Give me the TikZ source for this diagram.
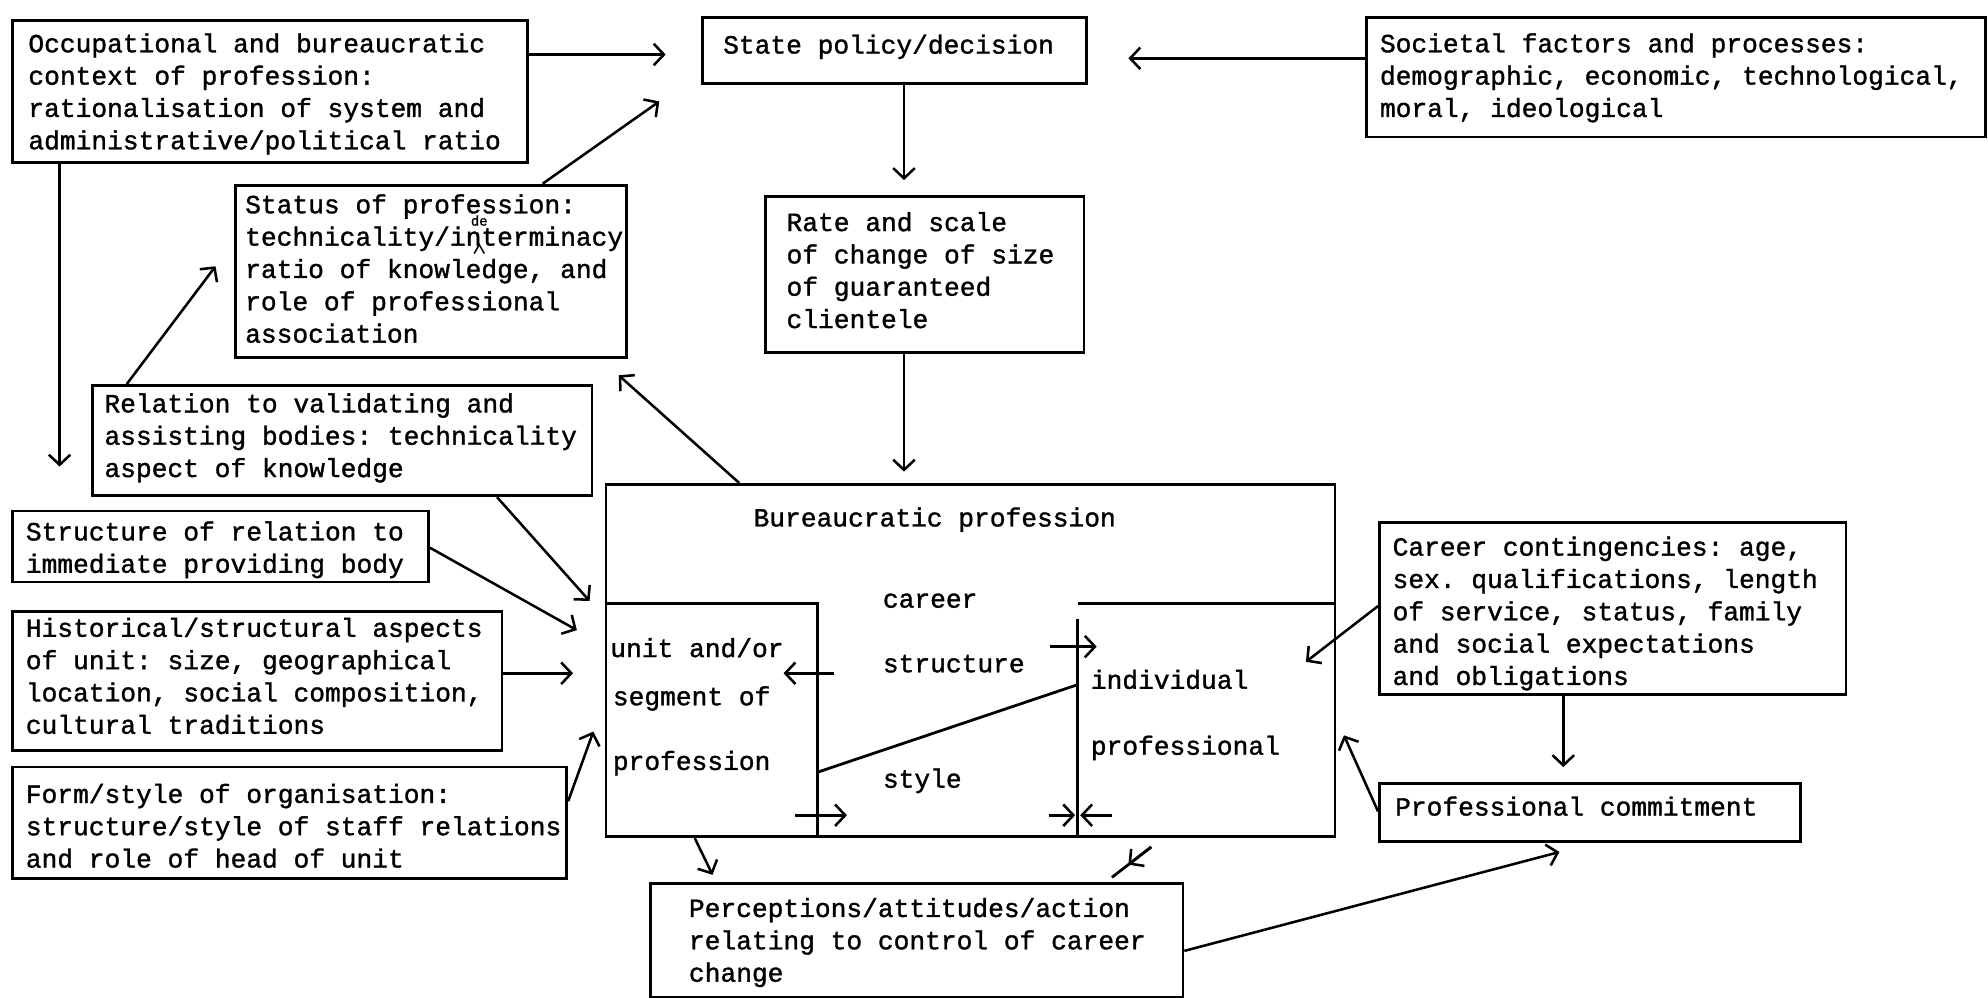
\documentclass[tikz,border=0pt]{standalone}
\usepackage{fontspec}
\setmonofont{Liberation Mono}[FakeBold=1.3]
\usetikzlibrary{arrows.meta,fit}
\tikzset{
  bx/.style={draw, line width=1.1pt, inner sep=0pt},
  txt/.style={anchor=north west, inner sep=0pt, align=left,
    font=\fontsize{10.35}{12.75}\selectfont\ttfamily},
  arr/.style={line width=1pt, -{Straight Barb[length=4pt,width=8.5pt,line width=1pt]}},
  ln/.style={line width=1.1pt}
}
\begin{document}
\begin{tikzpicture}[x=0.5pt,y=-0.5pt]
\useasboundingbox (0,0) rectangle (1568,786.4);
% boxes
\node[bx, fit={(10,16) (416,128)}] (A) {};
\node[bx, fit={(554,14) (857,66)}] (B) {};
\node[bx, fit={(1078,14) (1566,108)}] (C) {};
\node[bx, fit={(604,155) (855,278)}] (D) {};
\node[bx, fit={(186,146) (494,282)}] (F) {};
\node[bx, fit={(73,304) (467,391)}] (G) {};
\node[bx, fit={(10,403) (338,459)}] (H) {};
\node[bx, fit={(10,482) (396,592)}] (I) {};
\node[bx, fit={(10,605) (447,693)}] (J) {};
\node[bx, fit={(478,382) (1053,660)}] (E) {};
\node[bx, fit={(513,697) (933,787)}] (K) {};
\node[bx, fit={(1088,412) (1456,548)}] (L) {};
\node[bx, fit={(1088,618) (1420,664)}] (M) {};
% texts
\node[txt] (At) at (22,23) {\strut Occupational and bureaucratic\\context of profession:\\rationalisation of system and\\administrative/political ratio};
\node[txt] (Bt) at (570,24) {\strut State policy/decision};
\node[txt] (Ct) at (1088,23) {\strut Societal factors and processes:\\demographic, economic, technological,\\moral, ideological};
\node[txt] (Dt) at (620,164) {\strut Rate and scale\\of change of size\\of guaranteed\\clientele};
\node[txt] (Ft) at (193,150) {\strut Status of profession:\\technicality/interminacy\\ratio of knowledge, and\\role of professional\\association};
\node[font=\fontsize{5.5}{6}\selectfont\ttfamily, inner sep=0pt] (Fins) at (378,174) {de};
\draw[line width=0.6pt] (374,200) -- (378,193) -- (382,200);
\node[txt] (Gt) at (82,307) {\strut Relation to validating and\\assisting bodies: technicality\\aspect of knowledge};
\node[txt] (Ht) at (20,408) {\strut Structure of relation to\\immediate providing body};
\node[txt] (It) at (20,484) {\strut Historical/structural aspects\\of unit: size, geographical\\location, social composition,\\cultural traditions};
\node[txt] (Jt) at (20,615) {\strut Form/style of organisation:\\structure/style of staff relations\\and role of head of unit};
\node[txt] (Kt) at (543,705) {\strut Perceptions/attitudes/action\\relating to control of career\\change};
\node[txt] (Lt) at (1098,420) {\strut Career contingencies: age,\\sex. qualifications, length\\of service, status, family\\and social expectations\\and obligations};
\node[txt] (Mt) at (1100,625) {\strut Professional commitment};
% inside bureaucratic profession
\node[txt] (Et) at (594,397) {\strut Bureaucratic profession};
\node[txt] (car) at (696,461) {\strut career};
\node[txt] (str) at (696,512) {\strut structure};
\node[txt] (sty) at (696,603) {\strut style};
\node[txt] (u1) at (481,500) {\strut unit and/or};
\node[txt] (u2) at (483,538) {\strut segment of};
\node[txt] (u3) at (483,589) {\strut profession};
\node[txt] (p1) at (860,525) {\strut individual};
\node[txt] (p2) at (860,577) {\strut professional};
\draw[ln] (E.west |- 0,476) -- (645,476) -- (E.south -| 645,0);
\draw[ln] (850,476) -- (E.east |- 0,476);
\draw[ln] (850,488) -- (E.south -| 850,0);
\draw[ln] (645,609) -- (850,540);
\draw[arr] (658,531) -- (618,531);
\draw[arr] (828,510) -- (865,510);
\draw[arr] (627,643) -- (668,643);
\draw[arr] (827,643) -- (848,643);
\draw[arr] (877,643) -- (852,643);
% connectors
\coordinate (pAB) at (525,43);
\draw[arr] (A.east |- pAB) -- (pAB);
\coordinate (pAd) at (47,368);
\draw[arr] (A.south -| pAd) -- (pAd);
\coordinate (pCB) at (890,46);
\draw[arr] (C.west |- pCB) -- (pCB);
\coordinate (pBD) at (713,142);
\draw[arr] (B.south -| pBD) -- (pBD);
\coordinate (pDE) at (713,372);
\draw[arr] (D.south -| pDE) -- (pDE);
\coordinate (pFB) at (520,80);
\draw[arr] (F.north -| 428,0) -- (pFB);
\coordinate (pGF) at (170,210);
\draw[arr] (G.north -| 100,0) -- (pGF);
\coordinate (pEF) at (488,296);
\draw[arr] (E.north -| 583,0) -- (pEF);
\coordinate (pGE) at (465,474);
\draw[arr] (G.south -| 392,0) -- (pGE);
\coordinate (pHE) at (455,497);
\draw[arr] (H.east |- 0,432) -- (pHE);
\coordinate (pIE) at (452,531);
\draw[arr] (I.east |- pIE) -- (pIE);
\coordinate (pJE) at (468,577);
\draw[arr] (J.east |- 0,632) -- (pJE);
\coordinate (pLE) at (1030,522);
\draw[arr] (L.west |- 0,478) -- (pLE);
\coordinate (pLM) at (1233,605);
\draw[arr] (L.south -| pLM) -- (pLM);
\coordinate (pME) at (1060,580);
\draw[arr] (M.west |- 0,640) -- (pME);
\coordinate (pKM) at (1230,672);
\draw[arr] (K.east |- 0,750) -- (pKM);
\coordinate (pEK) at (562,690);
\draw[arr] (E.south -| 548,0) -- (pEK);
\coordinate (pX1) at (908,668);
\coordinate (pX2) at (877,692);
\coordinate (pXt) at (890,682);
\draw[ln] (pX1) -- (pX2);
\draw[arr] (pX1) -- (pXt);
\end{tikzpicture}
\end{document}
